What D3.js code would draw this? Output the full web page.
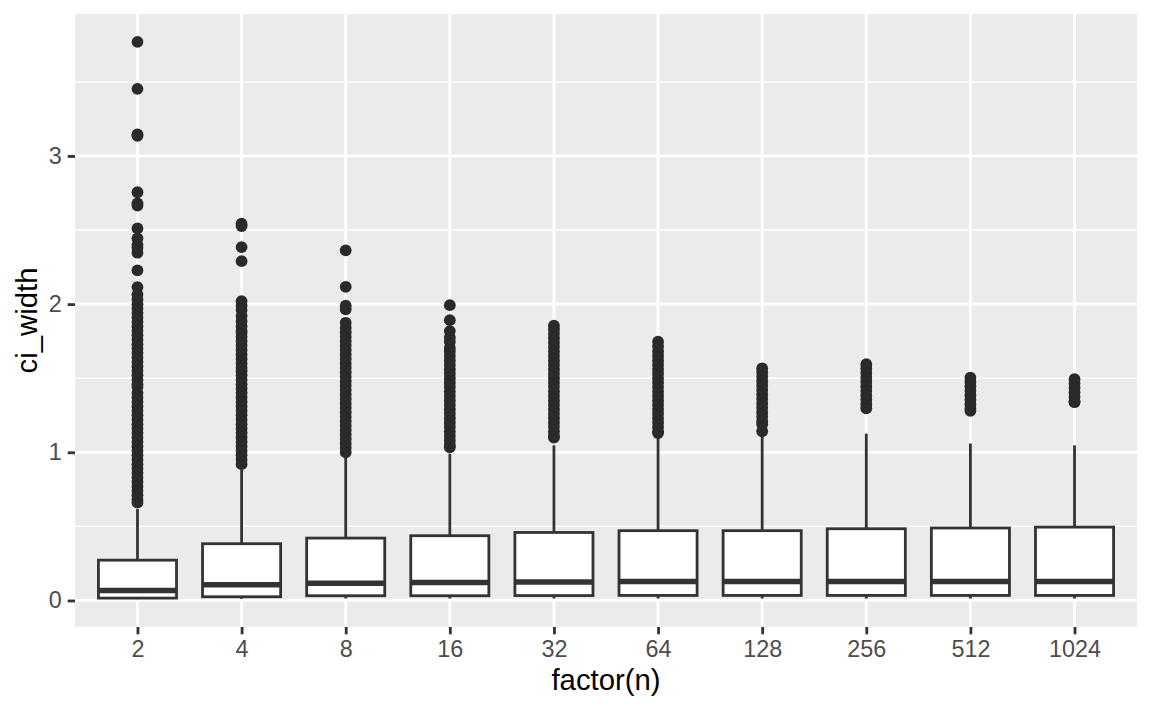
<!DOCTYPE html>
<html><head><meta charset="utf-8">
<script src="https://cdn.jsdelivr.net/npm/d3@7"></script>
<style>html,body{margin:0;padding:0;background:#fff;}svg{display:block;}</style>
</head><body>
<svg id="chart" width="1152" height="711"></svg>
<script>
const categories = ["2","4","8","16","32","64","128","256","512","1024"];
const lowerWhisker = [0.009,0.011,0.013,0.013,0.013,0.013,0.013,0.013,0.013,0.013];
const q1 = [0.016,0.025,0.032,0.032,0.033,0.034,0.034,0.034,0.034,0.034];
const median = [0.068,0.106,0.117,0.122,0.124,0.128,0.128,0.128,0.128,0.128];
const q3 = [0.272,0.383,0.421,0.437,0.459,0.471,0.471,0.484,0.489,0.495];
const upperWhisker = [0.617,0.883,0.962,0.990,1.047,1.097,1.108,1.126,1.059,1.047];
const outliers = [
  [3.77,3.453,3.146,3.135,2.755,2.68,2.665,2.511,2.444,2.40,2.38,2.347,2.228,2.115,2.066,2.032,2.00,1.97,1.94,1.91,1.88,1.85,1.82,1.79,1.76,1.73,1.70,1.67,1.64,1.61,1.58,1.55,1.52,1.49,1.46,1.44,1.40,1.37,1.34,1.31,1.28,1.25,1.22,1.19,1.16,1.13,1.10,1.07,1.04,1.01,0.98,0.95,0.92,0.89,0.86,0.83,0.80,0.77,0.74,0.71,0.68,0.66],
  [2.543,2.527,2.385,2.29,2.02,1.99,1.96,1.92,1.885,1.85,1.82,1.806,1.78,1.75,1.72,1.69,1.66,1.63,1.60,1.57,1.547,1.52,1.49,1.46,1.43,1.40,1.37,1.34,1.31,1.28,1.25,1.22,1.19,1.16,1.13,1.10,1.07,1.04,1.01,0.98,0.95,0.92],
  [2.363,2.117,1.99,1.965,1.874,1.84,1.81,1.78,1.75,1.72,1.69,1.66,1.63,1.60,1.57,1.54,1.51,1.48,1.45,1.42,1.39,1.36,1.33,1.30,1.27,1.24,1.21,1.18,1.15,1.12,1.09,1.06,1.03,1.00],
  [1.993,1.892,1.818,1.775,1.745,1.705,1.68,1.65,1.62,1.59,1.56,1.53,1.50,1.47,1.44,1.41,1.38,1.35,1.32,1.29,1.26,1.23,1.20,1.17,1.14,1.11,1.08,1.05,1.034],
  [1.855,1.83,1.80,1.77,1.74,1.71,1.68,1.65,1.62,1.59,1.56,1.53,1.50,1.47,1.44,1.41,1.38,1.35,1.32,1.29,1.26,1.23,1.20,1.17,1.14,1.11,1.10],
  [1.747,1.715,1.68,1.65,1.62,1.59,1.56,1.53,1.50,1.47,1.44,1.41,1.38,1.35,1.32,1.29,1.26,1.23,1.20,1.17,1.14,1.13],
  [1.567,1.54,1.51,1.48,1.45,1.42,1.39,1.36,1.33,1.30,1.27,1.24,1.21,1.19,1.142],
  [1.595,1.565,1.535,1.505,1.475,1.445,1.415,1.385,1.355,1.325,1.297],
  [1.503,1.475,1.445,1.415,1.385,1.355,1.325,1.295,1.28],
  [1.493,1.465,1.435,1.405,1.375,1.345,1.338]
];
const yTicks = [0,1,2,3];
const yMinor = [0.5,1.5,2.5,3.5];
const xTitle = "factor(n)";
const yTitle = "ci_width";

const svg = d3.select("#chart");
const panel = {left:75, right:1137, top:14, bottom:627};

const allVals = lowerWhisker.concat(upperWhisker, outliers.flat());
const lo = d3.min(allVals), hi = d3.max(allVals), span = hi - lo;
const y = d3.scaleLinear().domain([lo - 0.05*span, hi + 0.05*span]).range([panel.bottom, panel.top]);
const x = d3.scalePoint().domain(categories).range([panel.left, panel.right]).padding(0.6);
const step = x.step();
const boxW = step * 0.75;

const LW = 2.8;
svg.append("rect").attr("x",panel.left).attr("y",panel.top)
  .attr("width",panel.right-panel.left).attr("height",panel.bottom-panel.top).attr("fill","#EBEBEB");

const grid = svg.append("g");
grid.selectAll("line.minor").data(yMinor).join("line")
  .attr("x1",panel.left).attr("x2",panel.right)
  .attr("y1",d=>y(d)).attr("y2",d=>y(d))
  .attr("stroke","#fff").attr("stroke-width",1.4);
grid.selectAll("line.majy").data(yTicks).join("line")
  .attr("x1",panel.left).attr("x2",panel.right)
  .attr("y1",d=>y(d)).attr("y2",d=>y(d))
  .attr("stroke","#fff").attr("stroke-width",LW);
grid.selectAll("line.majx").data(categories).join("line")
  .attr("x1",d=>x(d)).attr("x2",d=>x(d))
  .attr("y1",panel.top).attr("y2",panel.bottom)
  .attr("stroke","#fff").attr("stroke-width",LW);

const stats = categories.map((c,i)=>({c, lw:lowerWhisker[i], q1:q1[i], med:median[i], q3:q3[i], uw:upperWhisker[i], out:outliers[i]}));

const lineCol = "#333333";
const boxes = svg.append("g").selectAll("g").data(stats).join("g");
boxes.append("line").attr("x1",d=>x(d.c)).attr("x2",d=>x(d.c))
  .attr("y1",d=>y(d.q3)).attr("y2",d=>y(d.uw)).attr("stroke",lineCol).attr("stroke-width",LW);
boxes.append("line").attr("x1",d=>x(d.c)).attr("x2",d=>x(d.c))
  .attr("y1",d=>y(d.q1)).attr("y2",d=>y(d.lw)).attr("stroke",lineCol).attr("stroke-width",LW);
boxes.append("rect").attr("x",d=>x(d.c)-boxW/2).attr("width",boxW)
  .attr("y",d=>y(d.q3)).attr("height",d=>y(d.q1)-y(d.q3))
  .attr("fill","#fff").attr("stroke",lineCol).attr("stroke-width",LW);
boxes.append("line").attr("x1",d=>x(d.c)-boxW/2).attr("x2",d=>x(d.c)+boxW/2)
  .attr("y1",d=>y(d.med)).attr("y2",d=>y(d.med)).attr("stroke",lineCol).attr("stroke-width",5.5);
boxes.selectAll("circle").data(d=>d.out.map(v=>({c:d.c,v}))).join("circle")
  .attr("cx",d=>x(d.c)).attr("cy",d=>y(d.v)).attr("r",5.9).attr("fill","#2a2a2a");

const font = "'Liberation Sans', Arial, Helvetica, sans-serif";
const xAxis = d3.axisBottom(x).tickSize(7.3).tickPadding(5.85);
const gx = svg.append("g").attr("transform",`translate(0,${panel.bottom})`).call(xAxis);
gx.select(".domain").remove();
gx.selectAll(".tick line").attr("stroke",lineCol).attr("stroke-width",LW);
gx.selectAll(".tick text").attr("fill","#4D4D4D").attr("font-size",23.4).attr("font-family",font);

const yAxis = d3.axisLeft(y).tickValues(yTicks).tickFormat(d3.format("d")).tickSize(7.3).tickPadding(5.85);
const gy = svg.append("g").attr("transform",`translate(${panel.left},0)`).call(yAxis);
gy.select(".domain").remove();
gy.selectAll(".tick line").attr("stroke",lineCol).attr("stroke-width",LW);
gy.selectAll(".tick text").attr("fill","#4D4D4D").attr("font-size",23.4).attr("font-family",font);

svg.append("text").attr("x",(panel.left+panel.right)/2).attr("y",690)
  .attr("text-anchor","middle").attr("font-size",29.3).attr("font-family",font).attr("fill","#000").text(xTitle);
svg.append("text").attr("transform",`translate(37,${(panel.top+panel.bottom)/2}) rotate(-90)`)
  .attr("text-anchor","middle").attr("font-size",29.3).attr("font-family",font).attr("fill","#000").text(yTitle);
</script>
</body></html>
